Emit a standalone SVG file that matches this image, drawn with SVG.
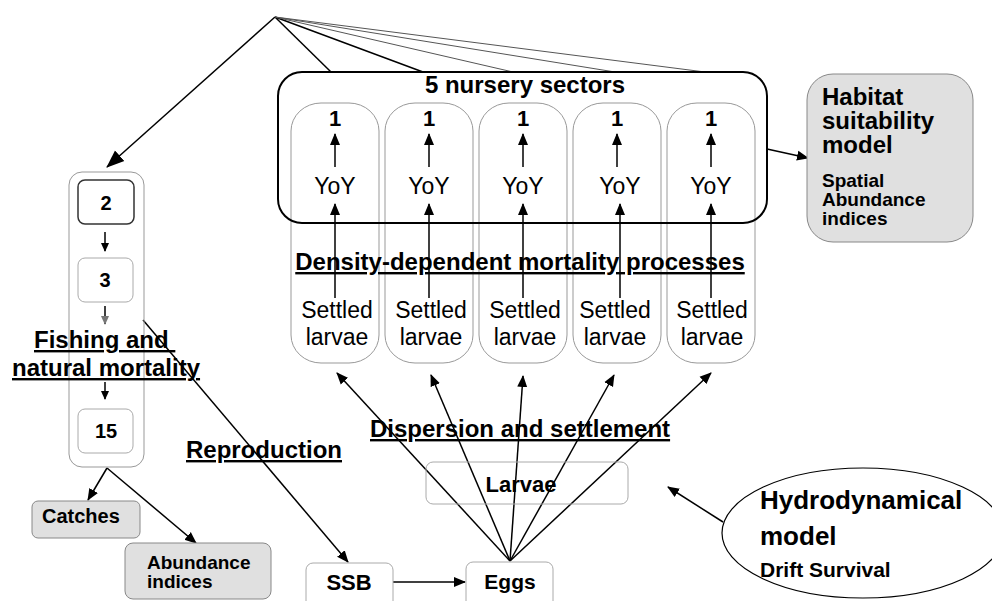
<svg xmlns="http://www.w3.org/2000/svg" width="992" height="601" viewBox="0 0 992 601">
<defs>
<marker id="ah" markerWidth="12" markerHeight="12" refX="11" refY="5" orient="auto" markerUnits="userSpaceOnUse" viewBox="0 0 12 10">
<path d="M0,0 L12,5 L0,10 z" fill="#000"/>
</marker>
<marker id="ahs" markerWidth="9" markerHeight="9" refX="8" refY="4" orient="auto" markerUnits="userSpaceOnUse" viewBox="0 0 9 8">
<path d="M0,0 L9,4 L0,8 z" fill="#000"/>
</marker>
<marker id="ahg" markerWidth="9" markerHeight="9" refX="8" refY="4" orient="auto" markerUnits="userSpaceOnUse" viewBox="0 0 9 8">
<path d="M0,0 L9,4 L0,8 z" fill="#777"/>
</marker>
<marker id="ahb" markerWidth="18" markerHeight="16" refX="17" refY="7" orient="auto" markerUnits="userSpaceOnUse" viewBox="0 0 18 14">
<path d="M0,0 L18,7 L0,14 z" fill="#000"/>
</marker>
</defs>
<style>
text{font-family:"Liberation Sans",Arial,sans-serif;fill:#000}
.b{font-weight:bold}
.col{fill:none;stroke:#999;stroke-width:1}
.light{fill:#fff;stroke:#aaa;stroke-width:1}
.grey{fill:#e0e0e0;stroke:#888;stroke-width:1}
.ln{stroke:#000;stroke-width:1.5;fill:none}
.thin{stroke:#555;stroke-width:1;fill:none}
.reg{font-size:23px}
.one{font-size:22px;font-weight:bold}
.lbl{font-size:24px;font-weight:bold;text-decoration:underline}
.age{font-size:20px;font-weight:bold}
.small{font-size:19px;font-weight:bold}
.big{font-size:24px;font-weight:bold}
</style>
<rect width="992" height="601" fill="#fff"/>

<g id="connectors">
<line class="ln" x1="275" y1="17" x2="331" y2="72"/>
<line class="ln" x1="275" y1="17" x2="423" y2="72"/>
<line class="thin" x1="275" y1="17" x2="513" y2="72"/>
<line class="thin" x1="275" y1="17" x2="615" y2="72"/>
<line class="thin" x1="275" y1="17" x2="705" y2="72"/>
<line class="ln" stroke-width="2" x1="275" y1="17" x2="107" y2="167" marker-end="url(#ahb)"/>
<line class="ln" x1="767" y1="149" x2="808" y2="158" marker-end="url(#ah)"/>
<line class="ln" x1="105" y1="232" x2="105" y2="251" marker-end="url(#ahs)"/>
<line class="ln" x1="105" y1="306" x2="105" y2="324" marker-end="url(#ahg)"/>
<line class="ln" x1="105" y1="382" x2="105" y2="399" marker-end="url(#ahs)"/>
<line class="ln" x1="143" y1="320" x2="348" y2="562" marker-end="url(#ah)"/>
<line class="ln" x1="107" y1="468" x2="88" y2="500" marker-end="url(#ah)"/>
<line class="ln" x1="107" y1="468" x2="196" y2="543" marker-end="url(#ah)"/>
<line class="ln" x1="393" y1="582" x2="465" y2="582" marker-end="url(#ah)"/>
<line class="ln" x1="510" y1="561" x2="337" y2="373" marker-end="url(#ah)"/>
<line class="ln" x1="510" y1="561" x2="431" y2="375" marker-end="url(#ah)"/>
<line class="ln" x1="510" y1="561" x2="523" y2="376" marker-end="url(#ah)"/>
<line class="ln" x1="510" y1="561" x2="614" y2="375" marker-end="url(#ah)"/>
<line class="ln" x1="510" y1="561" x2="711" y2="373" marker-end="url(#ah)"/>
<line class="ln" x1="723" y1="522" x2="668" y2="487" marker-end="url(#ah)"/>
</g>

<g id="sector-columns">
<rect class="col" x="291" y="103" width="88" height="260" rx="30" ry="28"/>
<rect class="col" x="385" y="103" width="88" height="260" rx="30" ry="28"/>
<rect class="col" x="479" y="103" width="88" height="260" rx="30" ry="28"/>
<rect class="col" x="573" y="103" width="88" height="260" rx="30" ry="28"/>
<rect class="col" x="667" y="103" width="88" height="260" rx="30" ry="28"/>
</g>

<g id="nursery-sectors">
<rect x="278" y="72" width="489" height="151" rx="24" fill="none" stroke="#000" stroke-width="2"/>
<text class="b" x="525" y="93" font-size="24" text-anchor="middle">5 nursery sectors</text>
</g>

<g id="sector-contents">
<g id="s1">
<text class="one" x="335" y="126" text-anchor="middle">1</text>
<line class="ln" x1="335" y1="167" x2="335" y2="134" marker-end="url(#ah)"/>
<text class="reg" x="335" y="194" text-anchor="middle">YoY</text>
<line class="ln" x1="335" y1="298" x2="335" y2="204" marker-end="url(#ah)"/>
<text class="reg" x="337" y="318" text-anchor="middle">Settled</text>
<text class="reg" x="337" y="345" text-anchor="middle">larvae</text>
</g>
<g id="s2">
<text class="one" x="429" y="126" text-anchor="middle">1</text>
<line class="ln" x1="429" y1="167" x2="429" y2="134" marker-end="url(#ah)"/>
<text class="reg" x="429" y="194" text-anchor="middle">YoY</text>
<line class="ln" x1="429" y1="298" x2="429" y2="204" marker-end="url(#ah)"/>
<text class="reg" x="431" y="318" text-anchor="middle">Settled</text>
<text class="reg" x="431" y="345" text-anchor="middle">larvae</text>
</g>
<g id="s3">
<text class="one" x="523" y="126" text-anchor="middle">1</text>
<line class="ln" x1="523" y1="167" x2="523" y2="134" marker-end="url(#ah)"/>
<text class="reg" x="523" y="194" text-anchor="middle">YoY</text>
<line class="ln" x1="523" y1="298" x2="523" y2="204" marker-end="url(#ah)"/>
<text class="reg" x="525" y="318" text-anchor="middle">Settled</text>
<text class="reg" x="525" y="345" text-anchor="middle">larvae</text>
</g>
<g id="s4">
<text class="one" x="617" y="126" text-anchor="middle">1</text>
<line class="ln" x1="617" y1="167" x2="617" y2="134" marker-end="url(#ah)"/>
<text class="reg" x="620" y="194" text-anchor="middle">YoY</text>
<line class="ln" x1="620" y1="298" x2="620" y2="204" marker-end="url(#ah)"/>
<text class="reg" x="615" y="318" text-anchor="middle">Settled</text>
<text class="reg" x="615" y="345" text-anchor="middle">larvae</text>
</g>
<g id="s5">
<text class="one" x="711" y="126" text-anchor="middle">1</text>
<line class="ln" x1="711" y1="167" x2="711" y2="134" marker-end="url(#ah)"/>
<text class="reg" x="711" y="194" text-anchor="middle">YoY</text>
<line class="ln" x1="711" y1="298" x2="711" y2="204" marker-end="url(#ah)"/>
<text class="reg" x="712" y="318" text-anchor="middle">Settled</text>
<text class="reg" x="712" y="345" text-anchor="middle">larvae</text>
</g>
</g>

<g id="density-label">
<text class="lbl" x="520" y="270" text-anchor="middle">Density-dependent mortality processes</text>
</g>

<g id="habitat">
<rect class="grey" x="807" y="74" width="166" height="168" rx="26"/>
<text class="big" x="822" y="105">Habitat</text>
<text class="big" x="822" y="129">suitability</text>
<text class="big" x="822" y="153">model</text>
<text class="small" x="822" y="187">Spatial</text>
<text class="small" x="822" y="206">Abundance</text>
<text class="small" x="822" y="225">indices</text>
</g>

<g id="age-classes">
<rect x="69" y="172" width="75" height="295" rx="13" fill="none" stroke="#999"/>
<g id="age2">
<rect x="78" y="180" width="56" height="44" rx="7" fill="#fff" stroke="#333" stroke-width="1.5"/>
<text class="age" x="106" y="210" text-anchor="middle">2</text>
</g>
<g id="age3">
<rect class="light" x="78" y="258" width="55" height="44" rx="7"/>
<text class="age" x="105" y="287" text-anchor="middle">3</text>
</g>
<g id="age15">
<rect class="light" x="78" y="409" width="55" height="44" rx="7"/>
<text class="age" x="106" y="438" text-anchor="middle">15</text>
</g>
</g>

<g id="fishing-label">
<text class="lbl" x="34" y="348">Fishing and&#160;</text>
<text class="lbl" x="12" y="376">natural mortality</text>
</g>

<g id="reproduction-label">
<text class="lbl" x="186" y="458" font-size="23.5">Reproduction</text>
</g>

<g id="catches">
<rect class="grey" x="32" y="501" width="108" height="37" rx="6"/>
<text class="b" x="42" y="523" font-size="20">Catches</text>
</g>

<g id="abundance">
<rect class="grey" x="125" y="543" width="146" height="56" rx="8"/>
<text class="small" x="147" y="569">Abundance</text>
<text class="small" x="147" y="588">indices</text>
</g>

<g id="ssb">
<rect class="light" x="306" y="563" width="87" height="45" rx="7"/>
<text class="b" x="349" y="590" font-size="22" text-anchor="middle">SSB</text>
</g>

<g id="eggs">
<rect class="light" x="466" y="562" width="87" height="46" rx="7"/>
<text class="b" x="510" y="589" font-size="21" text-anchor="middle">Eggs</text>
</g>

<g id="larvae">
<rect x="426" y="462" width="202" height="42" rx="7" fill="none" stroke="#aaa"/>
<text class="b" x="521" y="492" font-size="22" text-anchor="middle">Larvae</text>
</g>

<g id="dispersion-label">
<text class="lbl" x="370" y="437">Dispersion and settlement</text>
</g>

<g id="hydro">
<ellipse cx="863" cy="533" rx="141" ry="65" fill="#fff" stroke="#000" stroke-width="1.2"/>
<text class="b" x="760" y="509" font-size="26">Hydrodynamical</text>
<text class="b" x="760" y="545" font-size="26">model</text>
<text class="b" x="760" y="577" font-size="21">Drift Survival</text>
</g>
</svg>
